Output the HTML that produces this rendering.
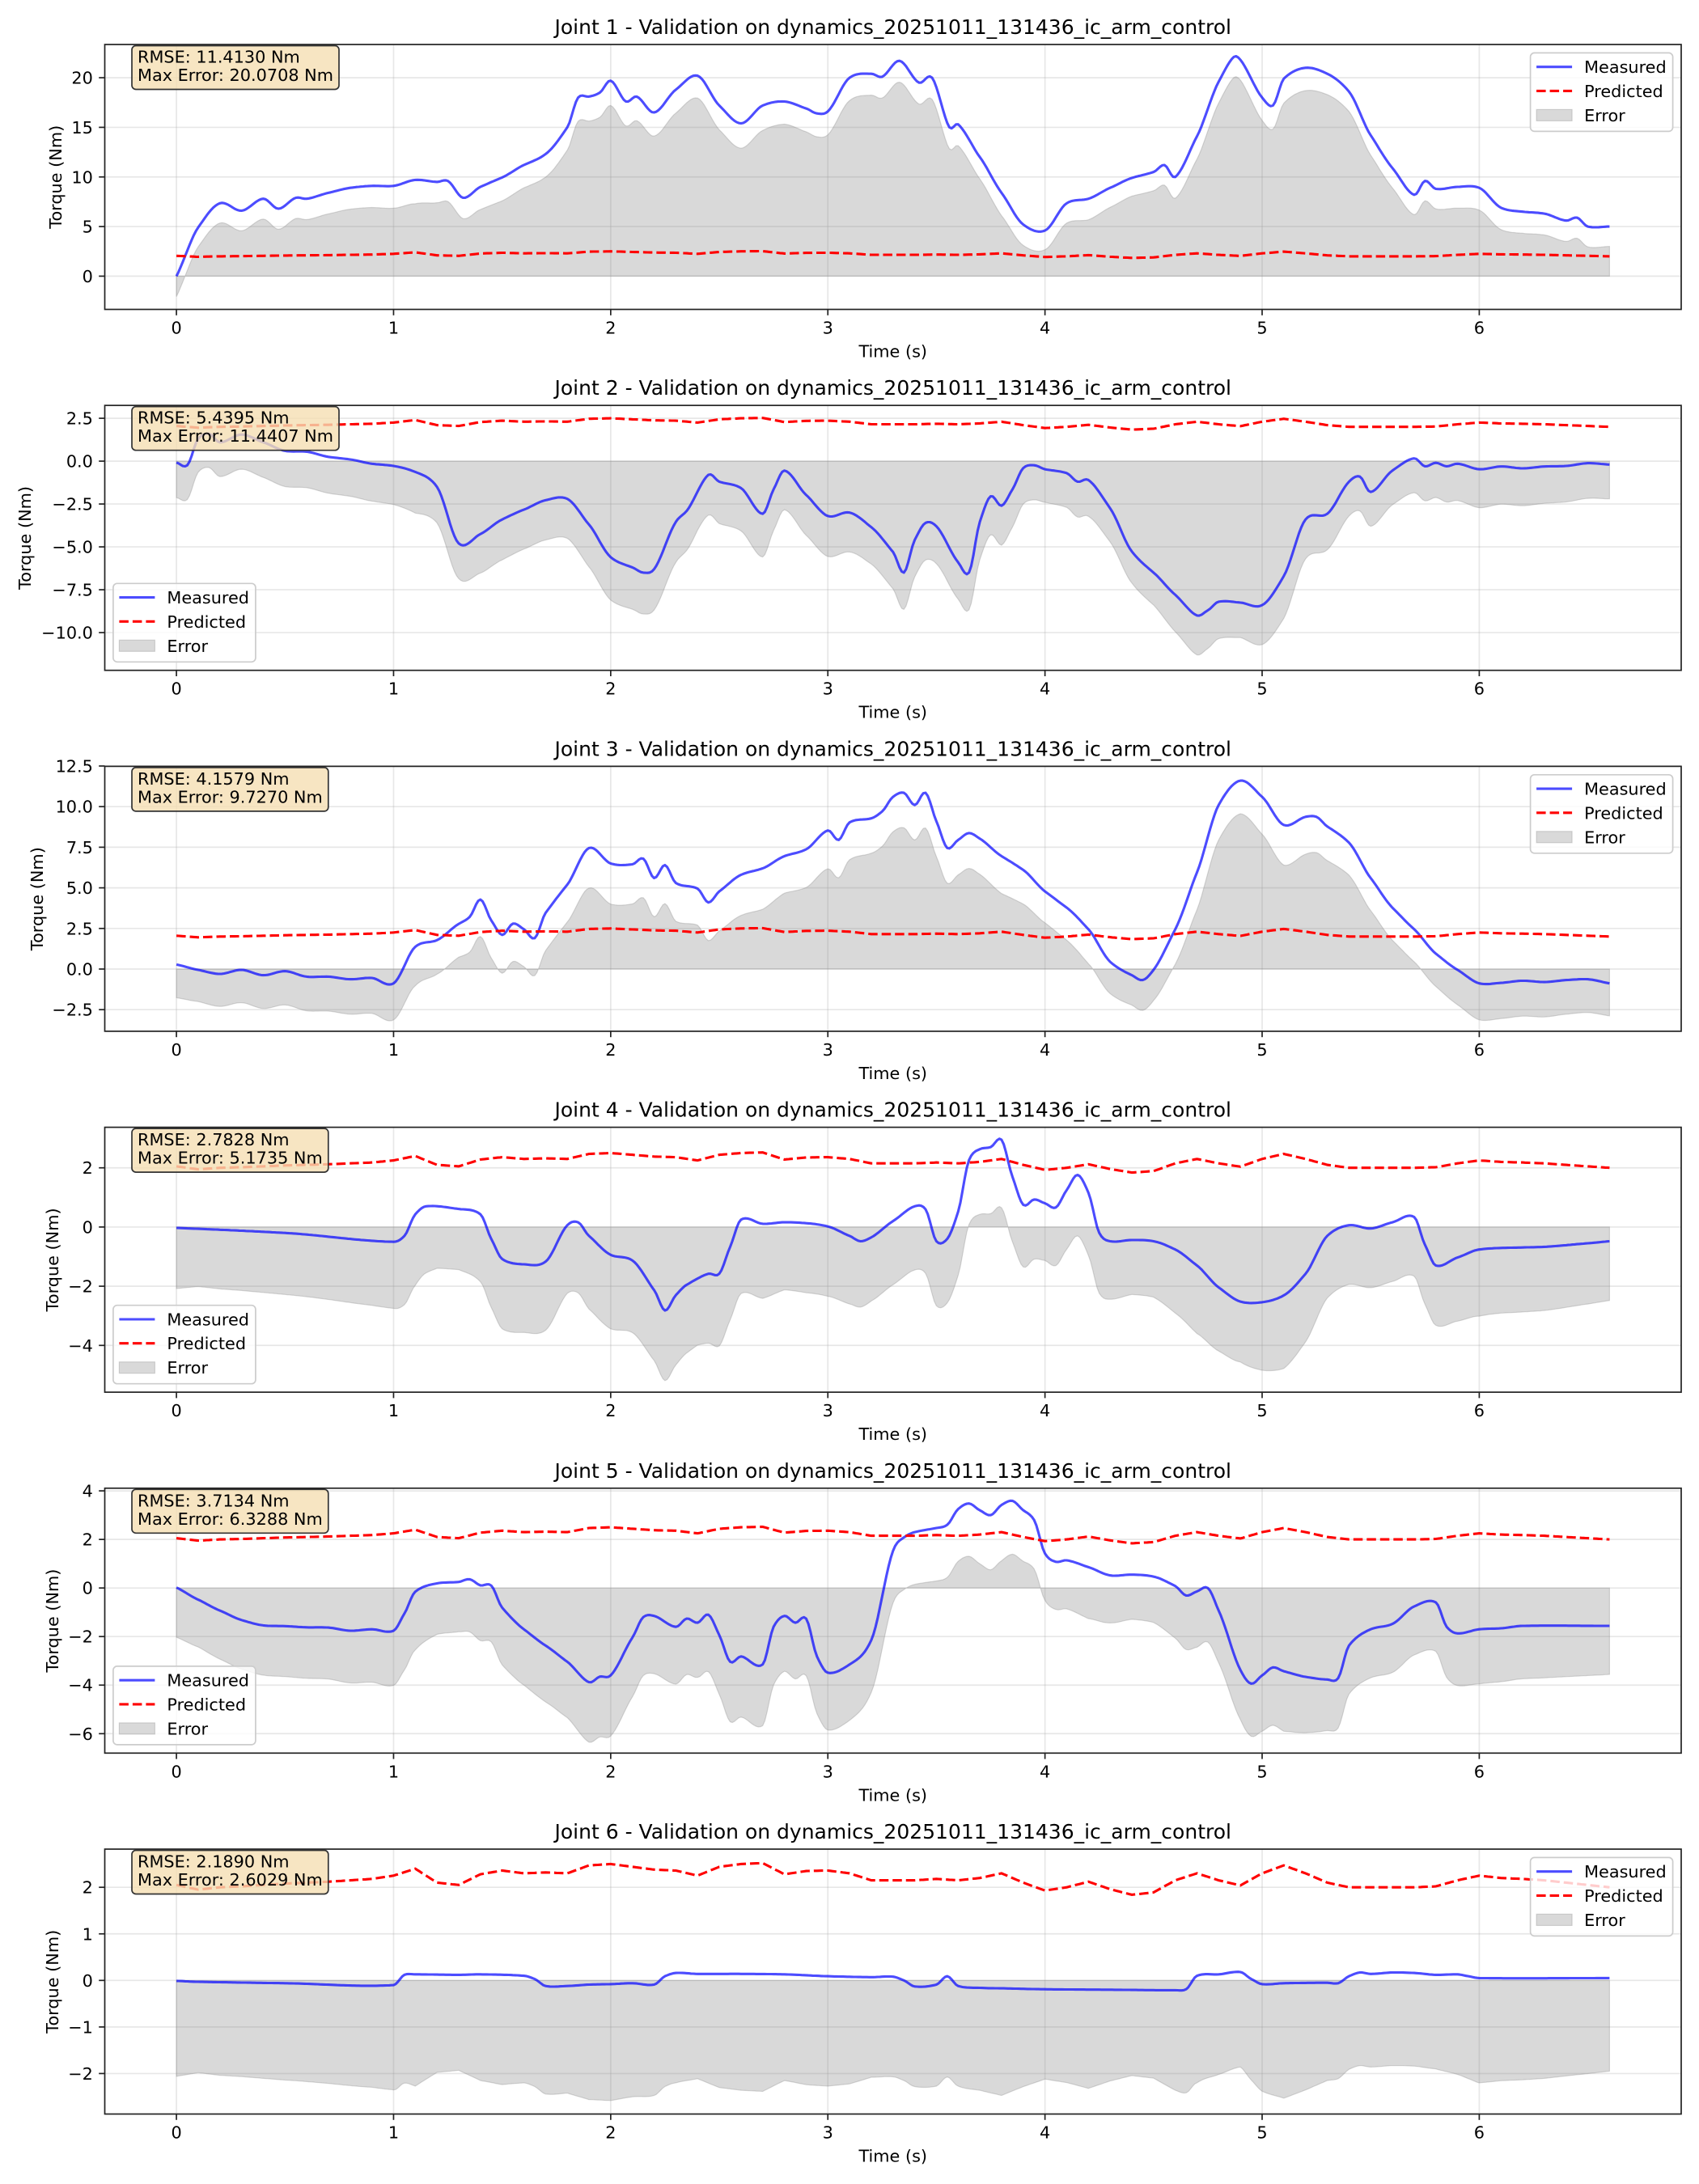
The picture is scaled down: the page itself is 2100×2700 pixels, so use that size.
<!DOCTYPE html>
<html><head><meta charset="utf-8"><title>Joint validation</title>
<style>
html,body{margin:0;padding:0;background:#fff;}
svg{display:block;}
text{font-family:"DejaVu Sans","Liberation Sans",sans-serif;fill:#000;}
</style></head>
<body>
<svg id="fig" xmlns="http://www.w3.org/2000/svg" width="2100" height="2700" viewBox="0 0 2100 2700">
<rect x="0" y="0" width="2100" height="2700" fill="#fff"/>
</svg>
<script>
// ---- data ----
const predT = [0,0.1,0.2,0.3,0.4,0.5,0.6,0.7,0.8,0.9,1.0,1.1,1.2,1.3,1.4,1.5,1.6,1.7,1.8,1.9,2.0,2.1,2.2,2.3,2.4,2.5,2.6,2.7,2.8,2.9,3.0,3.1,3.2,3.3,3.4,3.5,3.6,3.7,3.8,3.9,4.0,4.1,4.2,4.3,4.4,4.5,4.6,4.7,4.8,4.9,5.0,5.1,5.2,5.3,5.4,5.5,5.6,5.7,5.8,5.9,6.0,6.1,6.2,6.3,6.4,6.5,6.6];
const predicted = [2.05,1.95,2.0,2.02,2.05,2.08,2.1,2.12,2.15,2.18,2.25,2.4,2.1,2.05,2.28,2.36,2.3,2.32,2.3,2.47,2.5,2.44,2.38,2.36,2.25,2.44,2.5,2.52,2.28,2.35,2.36,2.3,2.15,2.15,2.15,2.18,2.15,2.2,2.3,2.1,1.93,2.0,2.12,1.96,1.84,1.89,2.15,2.3,2.15,2.04,2.3,2.47,2.3,2.1,2.0,2.0,2.0,2.0,2.02,2.15,2.25,2.2,2.18,2.15,2.1,2.05,2.0];

const j1T = [0,0.1,0.2,0.3,0.4,0.47,0.55,0.6,0.7,0.8,0.9,1.0,1.1,1.2,1.25,1.32,1.4,1.5,1.6,1.7,1.8,1.85,1.9,1.95,2.0,2.07,2.12,2.2,2.3,2.4,2.5,2.6,2.7,2.8,2.9,2.95,3.0,3.1,3.2,3.25,3.33,3.42,3.48,3.56,3.6,3.7,3.8,3.9,4.0,4.1,4.2,4.3,4.4,4.5,4.55,4.6,4.7,4.8,4.87,4.9,5.0,5.05,5.1,5.2,5.3,5.4,5.5,5.6,5.7,5.75,5.8,5.9,6.0,6.1,6.2,6.3,6.4,6.45,6.5,6.6];
const j1Measured = [0,4.9,7.35,6.6,7.8,6.8,7.9,7.8,8.4,8.9,9.1,9.1,9.7,9.5,9.6,7.9,9.0,9.95,11.2,12.3,15,18,18.1,18.5,19.7,17.6,18.1,16.5,18.8,20.2,17.2,15.4,17.2,17.6,16.9,16.4,16.6,20,20.4,20.1,21.7,19.5,20.0,15.0,15.3,12,8.4,5.2,4.6,7.35,7.8,8.9,9.9,10.5,11.2,10,14.1,19.6,22.1,21.8,18,17.2,19.9,21,20.4,18.6,14.2,10.9,8.2,9.6,8.8,9.0,8.9,6.9,6.5,6.3,5.6,5.9,5.0,5.0];

const j2T = [0,0.05,0.1,0.15,0.2,0.3,0.4,0.5,0.6,0.7,0.8,0.9,1.0,1.1,1.2,1.3,1.4,1.5,1.6,1.7,1.8,1.9,2.0,2.1,2.15,2.2,2.3,2.35,2.45,2.5,2.6,2.7,2.75,2.8,2.9,3.0,3.1,3.2,3.3,3.35,3.4,3.45,3.5,3.6,3.65,3.7,3.75,3.8,3.85,3.9,3.95,4.0,4.1,4.15,4.2,4.3,4.4,4.5,4.6,4.7,4.75,4.8,4.9,5.0,5.1,5.2,5.3,5.4,5.45,5.5,5.6,5.7,5.75,5.8,5.85,5.9,6.0,6.1,6.2,6.3,6.4,6.5,6.6];
const j2Measured = [-0.08,-0.24,1.3,1.6,1.1,1.55,1.1,0.6,0.55,0.25,0.1,-0.15,-0.28,-0.63,-1.5,-4.8,-4.25,-3.4,-2.83,-2.28,-2.2,-3.7,-5.6,-6.2,-6.5,-6.3,-3.54,-2.9,-0.8,-1.2,-1.57,-3.07,-1.65,-0.55,-1.97,-3.2,-3.0,-3.85,-5.3,-6.5,-4.6,-3.6,-3.8,-5.9,-6.5,-3.54,-2.05,-2.6,-1.65,-0.4,-0.24,-0.47,-0.7,-1.2,-1.1,-2.75,-5.27,-6.5,-7.8,-9.0,-8.7,-8.2,-8.25,-8.4,-6.7,-3.4,-3.07,-1.2,-0.9,-1.8,-0.55,0.16,-0.3,-0.1,-0.3,-0.15,-0.47,-0.31,-0.42,-0.31,-0.28,-0.12,-0.2];

const j3T = [0,0.1,0.2,0.3,0.4,0.5,0.6,0.7,0.8,0.9,1.0,1.1,1.2,1.3,1.35,1.4,1.45,1.5,1.55,1.6,1.65,1.7,1.8,1.9,2.0,2.1,2.15,2.2,2.25,2.3,2.4,2.45,2.5,2.6,2.7,2.8,2.9,3.0,3.05,3.1,3.2,3.25,3.3,3.35,3.4,3.45,3.5,3.55,3.6,3.65,3.7,3.8,3.9,4.0,4.1,4.2,4.3,4.4,4.45,4.5,4.6,4.7,4.8,4.9,5.0,5.1,5.2,5.25,5.3,5.4,5.5,5.6,5.7,5.8,5.9,6.0,6.1,6.2,6.3,6.4,6.5,6.6];
const j3Measured = [0.28,-0.05,-0.3,-0.05,-0.38,-0.13,-0.47,-0.47,-0.63,-0.55,-0.88,1.37,1.78,2.78,3.2,4.28,3.0,2.1,2.8,2.45,1.9,3.45,5.2,7.45,6.5,6.45,6.8,5.6,6.4,5.3,4.95,4.1,4.78,5.8,6.2,6.95,7.37,8.53,7.95,9.03,9.28,9.7,10.6,10.85,10.1,10.85,9.1,7.45,7.95,8.37,8.03,6.95,6.1,4.78,3.78,2.45,0.45,-0.38,-0.68,-0.05,2.45,5.95,10.1,11.6,10.6,8.87,9.37,9.37,8.78,7.78,5.6,3.78,2.45,0.95,-0.05,-0.88,-0.85,-0.72,-0.8,-0.68,-0.63,-0.88];

const j4T = [0,0.5,1.0,1.05,1.1,1.15,1.3,1.4,1.45,1.5,1.6,1.7,1.8,1.85,1.9,2.0,2.1,2.2,2.25,2.3,2.35,2.45,2.5,2.55,2.6,2.7,2.8,2.9,3.0,3.1,3.15,3.2,3.3,3.4,3.45,3.5,3.55,3.6,3.65,3.7,3.75,3.8,3.85,3.9,3.95,4.0,4.05,4.1,4.15,4.2,4.25,4.3,4.4,4.5,4.6,4.7,4.8,4.9,5.0,5.1,5.2,5.3,5.4,5.5,5.6,5.7,5.75,5.8,5.9,6.0,6.2,6.3,6.5,6.6];
const j4Measured = [-0.03,-0.2,-0.5,-0.3,0.43,0.7,0.61,0.43,-0.4,-1.08,-1.26,-1.17,0.06,0.16,-0.3,-0.94,-1.13,-2.13,-2.82,-2.3,-1.95,-1.58,-1.58,-0.67,0.25,0.11,0.16,0.13,0.02,-0.3,-0.48,-0.35,0.2,0.7,0.6,-0.48,-0.4,0.52,2.26,2.63,2.7,2.95,1.7,0.75,0.93,0.8,0.66,1.25,1.76,1.16,-0.2,-0.48,-0.44,-0.48,-0.76,-1.3,-2.04,-2.52,-2.54,-2.31,-1.58,-0.3,0.06,-0.05,0.16,0.34,-0.6,-1.3,-1.03,-0.76,-0.69,-0.67,-0.55,-0.48];

const j5T = [0,0.1,0.2,0.3,0.4,0.5,0.6,0.7,0.8,0.9,1.0,1.05,1.1,1.2,1.3,1.35,1.4,1.45,1.5,1.6,1.7,1.8,1.9,1.95,2.0,2.1,2.15,2.2,2.3,2.35,2.4,2.45,2.5,2.55,2.6,2.7,2.75,2.8,2.85,2.9,2.95,3.0,3.1,3.2,3.3,3.35,3.4,3.5,3.55,3.6,3.65,3.7,3.75,3.8,3.85,3.9,3.95,4.0,4.05,4.1,4.2,4.3,4.4,4.5,4.6,4.65,4.7,4.75,4.8,4.9,4.95,5.0,5.05,5.1,5.2,5.3,5.35,5.4,5.5,5.6,5.7,5.8,5.85,5.9,6.0,6.1,6.2,6.6];
const j5Measured = [0.02,-0.48,-0.93,-1.32,-1.54,-1.57,-1.62,-1.63,-1.76,-1.7,-1.76,-1.05,-0.15,0.19,0.25,0.36,0.11,0.1,-0.81,-1.7,-2.37,-3.04,-3.88,-3.65,-3.6,-2.04,-1.2,-1.15,-1.6,-1.26,-1.43,-1.1,-1.94,-3.04,-2.82,-3.15,-1.6,-1.15,-1.43,-1.26,-2.82,-3.49,-3.15,-2.15,1.53,2.08,2.3,2.47,2.6,3.25,3.48,3.2,3.0,3.42,3.59,3.2,2.8,1.42,1.08,1.14,0.86,0.52,0.55,0.47,0.08,-0.31,-0.14,0.0,-0.93,-3.38,-3.94,-3.6,-3.27,-3.43,-3.66,-3.77,-3.72,-2.37,-1.7,-1.48,-0.76,-0.59,-1.6,-1.87,-1.7,-1.66,-1.56,-1.56];

const j6T = [0,0.1,0.5,1.0,1.05,1.1,1.3,1.4,1.6,1.65,1.7,1.8,1.9,2.0,2.1,2.2,2.25,2.3,2.4,2.6,2.8,3.0,3.2,3.3,3.35,3.4,3.5,3.55,3.6,3.7,3.8,4.0,4.3,4.6,4.65,4.7,4.8,4.9,4.95,5.0,5.1,5.3,5.35,5.4,5.45,5.5,5.6,5.7,5.8,5.9,5.95,6.0,6.6];
const j6Measured = [-0.01,-0.03,-0.06,-0.1,0.12,0.13,0.12,0.13,0.1,0.03,-0.12,-0.12,-0.09,-0.08,-0.06,-0.09,0.09,0.16,0.14,0.14,0.13,0.09,0.07,0.08,0.0,-0.13,-0.09,0.09,-0.12,-0.16,-0.17,-0.19,-0.2,-0.21,-0.19,0.1,0.13,0.18,0.03,-0.08,-0.06,-0.05,-0.06,0.09,0.17,0.14,0.17,0.16,0.12,0.13,0.09,0.05,0.05];

const rmseLabels = ["11.4130","5.4395","4.1579","2.7828","3.7134","2.1890"];
const maxErrLabels = ["20.0708","11.4407","9.7270","5.1735","6.3288","2.6029"];
const yLimits = [[-3.35,23.35],[-12.2,3.25],[-3.83,12.48],[-5.58,3.37],[-6.8,4.11],[-2.87,2.82]];
const yTicks = [[0,5,10,15,20],[-10,-7.5,-5,-2.5,0,2.5],[-2.5,0,2.5,5,7.5,10,12.5],[-4,-2,0,2],[-6,-4,-2,0,2,4],[-2,-1,0,1,2]];
const yTickDecimals = [0,1,1,0,0,0];
const xTicks = [0,1,2,3,4,5,6];
const xLimits = [-0.33,6.93];
const legendLoc = ["upper right","lower left","upper right","lower left","lower left","upper right"];
const yLabelX = [76,38,53,72,72,72];

const seriesT = [j1T,j2T,j3T,j4T,j5T,j6T];
const seriesM = [j1Measured,j2Measured,j3Measured,j4Measured,j5Measured,j6Measured];

// ---- layout ----
const NS = "http://www.w3.org/2000/svg";
const svg = document.getElementById('fig');
const AX_L = 129.5, AX_R = 2078, AX_H = 327.5, AX_T0 = 55, AX_STEP = 446.2;

function mk(tag, attrs, parent){
  const e = document.createElementNS(NS, tag);
  for (const k in attrs) e.setAttribute(k, attrs[k]);
  (parent||svg).appendChild(e);
  return e;
}
function fmtTick(v, d){
  let s = v.toFixed(d);
  return s.replace('-', '\u2212');
}
function hermite(ts, vs, t){
  const n = ts.length;
  if (t <= ts[0]) return vs[0];
  if (t >= ts[n-1]) return vs[n-1];
  let i = 0;
  while (i < n-2 && ts[i+1] < t) i++;
  const t0=ts[i], t1=ts[i+1], v0=vs[i], v1=vs[i+1], h=t1-t0;
  const m = k => {
    if (k<=0) return (vs[1]-vs[0])/(ts[1]-ts[0]);
    if (k>=n-1) return (vs[n-1]-vs[n-2])/(ts[n-1]-ts[n-2]);
    return (vs[k+1]-vs[k-1])/(ts[k+1]-ts[k-1]);
  };
  const m0 = m(i)*h*0.85, m1 = m(i+1)*h*0.85;
  const s = (t-t0)/h, s2=s*s, s3=s2*s;
  return (2*s3-3*s2+1)*v0 + (s3-2*s2+s)*m0 + (-2*s3+3*s2)*v1 + (s3-s2)*m1;
}
function linear(ts, vs, t){
  const n = ts.length;
  if (t <= ts[0]) return vs[0];
  if (t >= ts[n-1]) return vs[n-1];
  let i = 0;
  while (i < n-2 && ts[i+1] < t) i++;
  const f = (t-ts[i])/(ts[i+1]-ts[i]);
  return vs[i] + f*(vs[i+1]-vs[i]);
}

for (let k = 0; k < 6; k++){
  const top = AX_T0 + AX_STEP*k, bot = top + AX_H;
  const [ymin, ymax] = yLimits[k];
  const X = t => AX_L + (t - xLimits[0])/(xLimits[1]-xLimits[0])*(AX_R-AX_L);
  const Y = v => bot - (v - ymin)/(ymax-ymin)*AX_H;

  const g = mk('g', {});
  
  

  // clip
  const cp = mk('clipPath', {id:'clip'+k}, g);
  mk('rect', {x:AX_L, y:top, width:AX_R-AX_L, height:AX_H}, cp);

  // grid
  const grid = mk('g', {stroke:'#b0b0b0', 'stroke-opacity':'0.3', 'stroke-width':'1.7'}, g);
  
  
  xTicks.forEach(t => mk('line', {x1:X(t), x2:X(t), y1:top, y2:bot}, grid));
  yTicks[k].forEach(v => mk('line', {x1:AX_L, x2:AX_R, y1:Y(v), y2:Y(v)}, grid));

  // sample
  const ts = seriesT[k], ms = seriesM[k];
  const N = 660;
  let mPts = [], pPts = [], ePts = [];
  for (let i = 0; i <= N; i++){
    const t = 6.6*i/N;
    const m = hermite(ts, ms, t);
    const p = linear(predT, predicted, t);
    mPts.push(X(t).toFixed(1)+','+Y(m).toFixed(1));
    pPts.push(X(t).toFixed(1)+','+Y(p).toFixed(1));
    ePts.push(X(t).toFixed(1)+','+Y(m-p).toFixed(1));
  }
  const plotG = mk('g', {'clip-path':'url(#clip'+k+')'}, g);
  const fillPts = [X(0).toFixed(1)+','+Y(0).toFixed(1)].concat(ePts, [X(6.6).toFixed(1)+','+Y(0).toFixed(1)]);
  const fill = mk('polygon', {points:fillPts.join(' '), fill:'#808080', 'fill-opacity':'0.3', stroke:'#808080', 'stroke-opacity':'0.3', 'stroke-width':'1.2'}, plotG);
  
  
  const ml = mk('polyline', {points:mPts.join(' '), fill:'none', stroke:'#0000ff', 'stroke-opacity':'0.7', 'stroke-width':'3.1', 'stroke-linejoin':'round'}, plotG);
  
  
  const pl = mk('polyline', {points:pPts.join(' '), fill:'none', stroke:'#ff0000', 'stroke-width':'3.1', 'stroke-dasharray':'11.5,5'}, plotG);
  
  

  // spines
  const sp = mk('rect', {x:AX_L, y:top, width:AX_R-AX_L, height:AX_H, fill:'none', stroke:'#222', 'stroke-width':'1.7'}, g);
  
  

  // x ticks
  xTicks.forEach(t => {
    mk('line', {x1:X(t), x2:X(t), y1:bot, y2:bot+7.3, stroke:'#222', 'stroke-width':'1.7'}, g);
    const tx = mk('text', {x:X(t), y:bot+30, 'text-anchor':'middle', 'font-size':'20.8'}, g);
    tx.textContent = String(t);
    
    
  });
  // y ticks
  yTicks[k].forEach(v => {
    mk('line', {x1:AX_L-7.3, x2:AX_L, y1:Y(v), y2:Y(v), stroke:'#222', 'stroke-width':'1.7'}, g);
    const tx = mk('text', {x:AX_L-14.6, y:Y(v)+7.5, 'text-anchor':'end', 'font-size':'20.8'}, g);
    tx.textContent = fmtTick(v, yTickDecimals[k]);
    
    
  });

  // labels
  const xl = mk('text', {x:(AX_L+AX_R)/2, y:bot+59, 'text-anchor':'middle', 'font-size':'20.8'}, g);
  xl.textContent = 'Time (s)';
  
  
  const ycy = (top+bot)/2;
  const yl = mk('text', {x:yLabelX[k], y:ycy, 'text-anchor':'middle', 'font-size':'20.8', transform:'rotate(-90 '+yLabelX[k]+' '+ycy+')'}, g);
  yl.textContent = 'Torque (Nm)';
  
  
  const ti = mk('text', {x:(AX_L+AX_R)/2, y:top-13, 'text-anchor':'middle', 'font-size':'25'}, g);
  ti.textContent = 'Joint ' + (k+1) + ' - Validation on dynamics_20251011_131436_ic_arm_control';
  
  

  // stats box
  const sb = mk('g', {}, g);
  
  
  const sbr = mk('rect', {x:163, y:top+1.5, width:240, height:54, rx:5, fill:'#f5deb3', 'fill-opacity':'0.8', stroke:'#333', 'stroke-width':'1.7'}, sb);
  const t1 = mk('text', {x:170, y:top+22.5, 'font-size':'20.8'}, sb);
  t1.textContent = 'RMSE: ' + rmseLabels[k] + ' Nm';
  const t2 = mk('text', {x:170, y:top+45, 'font-size':'20.8'}, sb);
  t2.textContent = 'Max Error: ' + maxErrLabels[k] + ' Nm';
  try {
    const w = Math.max(t1.getComputedTextLength(), t2.getComputedTextLength());
    if (w > 0) sbr.setAttribute('width', (w + 14).toFixed(1));
  } catch(e) {}

  // legend
  const LW = 176, LH = 97;
  let lx, ly;
  if (legendLoc[k] === 'upper right'){ lx = AX_R-10.4-LW; ly = top+10.4; }
  else { lx = AX_L+10.4; ly = bot-10.4-LH; }
  const lg = mk('g', {}, g);
  
  
  mk('rect', {x:lx, y:ly, width:LW, height:LH, rx:5, fill:'#fff', 'fill-opacity':'0.8', stroke:'#cccccc', 'stroke-width':'1.7'}, lg);
  const rows = [ly+17.3, ly+47, ly+77];
  const e1 = mk('line', {x1:lx+7.5, x2:lx+51.5, y1:rows[0], y2:rows[0], stroke:'#0000ff', 'stroke-opacity':'0.7', 'stroke-width':'3.1'}, lg);
  
  
  const e2 = mk('line', {x1:lx+7.5, x2:lx+51.5, y1:rows[1], y2:rows[1], stroke:'#ff0000', 'stroke-width':'3.1', 'stroke-dasharray':'11.5,5'}, lg);
  
  
  const e3 = mk('rect', {x:lx+7.5, y:rows[2]-7, width:44, height:14, fill:'#808080', 'fill-opacity':'0.3', stroke:'#808080', 'stroke-opacity':'0.3', 'stroke-width':'1.2'}, lg);
  
  
  ['Measured','Predicted','Error'].forEach((s,i) => {
    const tx = mk('text', {x:lx+66.5, y:rows[i]+7.5, 'font-size':'20.8'}, lg);
    tx.textContent = s;
    
    
  });
}
</script>
</body></html>
